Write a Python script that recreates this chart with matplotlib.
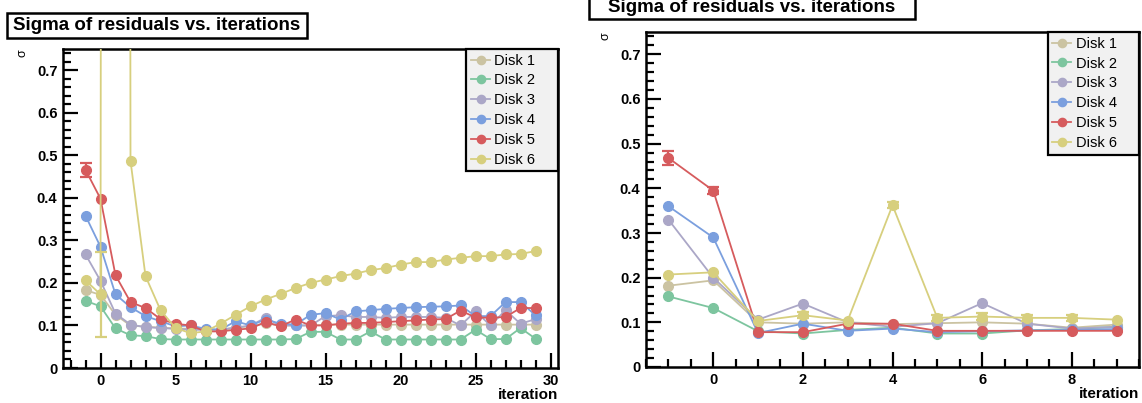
import matplotlib
matplotlib.use("Agg")
import matplotlib.pyplot as plt
from matplotlib.patches import Rectangle
from matplotlib.ticker import MultipleLocator

plt.rcParams['font.family'] = ['Liberation Sans', 'DejaVu Sans']

# series names and colours
disks = ["Disk 1", "Disk 2", "Disk 3", "Disk 4", "Disk 5", "Disk 6"]
colors = ["#cbc3a2", "#7dc59f", "#aba7c7", "#7b9fde", "#d65b5d", "#d7cf7e"]

# left panel: iterations -1..29
iter_left = list(range(-1, 30))
left_d1 = [0.183, 0.172, 0.125, 0.100, 0.097, 0.095, 0.093, 0.092, 0.090, 0.090, 0.095,
           0.098, 0.105, 0.100, 0.100, 0.100, 0.102, 0.102, 0.102, 0.102, 0.102, 0.102,
           0.102, 0.102, 0.102, 0.102, 0.102, 0.102, 0.102, 0.102, 0.102]
left_d2 = [0.158, 0.145, 0.093, 0.077, 0.075, 0.068, 0.067, 0.067, 0.067, 0.067, 0.067,
           0.067, 0.067, 0.067, 0.068, 0.085, 0.085, 0.067, 0.067, 0.086, 0.067, 0.067,
           0.067, 0.067, 0.067, 0.067, 0.090, 0.068, 0.068, 0.094, 0.069]
left_d3 = [0.267, 0.205, 0.128, 0.102, 0.096, 0.094, 0.092, 0.090, 0.090, 0.090, 0.095,
           0.100, 0.118, 0.100, 0.100, 0.100, 0.122, 0.124, 0.120, 0.120, 0.118, 0.120,
           0.120, 0.120, 0.118, 0.100, 0.133, 0.100, 0.136, 0.104, 0.115]
left_d4 = [0.358, 0.285, 0.173, 0.143, 0.122, 0.110, 0.098, 0.100, 0.092, 0.090, 0.110,
           0.100, 0.114, 0.104, 0.102, 0.125, 0.129, 0.114, 0.133, 0.136, 0.139, 0.141,
           0.143, 0.144, 0.145, 0.147, 0.122, 0.122, 0.155, 0.155, 0.124]
left_d5 = [0.466, 0.398, 0.218, 0.155, 0.141, 0.115, 0.104, 0.100, 0.086, 0.086, 0.090,
           0.093, 0.108, 0.098, 0.114, 0.100, 0.100, 0.104, 0.106, 0.106, 0.108, 0.110,
           0.112, 0.114, 0.115, 0.135, 0.119, 0.118, 0.120, 0.141, 0.141]
left_d6 = [0.206, 0.173, 30.0, 0.487, 0.216, 0.136, 0.094, 0.082, 0.086, 0.104, 0.125,
           0.145, 0.161, 0.174, 0.188, 0.200, 0.208, 0.216, 0.222, 0.230, 0.235, 0.243,
           0.249, 0.249, 0.255, 0.259, 0.263, 0.263, 0.267, 0.268, 0.275]
left_series = [left_d1, left_d2, left_d3, left_d4, left_d5, left_d6]
# visible error bars (iteration -> sigma error), per disk
left_errors = [{}, {}, {}, {}, {-1: 0.016}, {0: 0.099}]

# right panel: iterations -1..9
iter_right = list(range(-1, 10))
right_d1 = [0.182, 0.194, 0.100, 0.097, 0.100, 0.096, 0.098, 0.100, 0.097, 0.088, 0.095]
right_d2 = [0.158, 0.132, 0.080, 0.075, 0.083, 0.088, 0.075, 0.075, 0.082, 0.085, 0.090]
right_d3 = [0.330, 0.200, 0.106, 0.142, 0.100, 0.090, 0.098, 0.143, 0.097, 0.086, 0.090]
right_d4 = [0.360, 0.290, 0.076, 0.097, 0.081, 0.086, 0.078, 0.080, 0.082, 0.083, 0.085]
right_d5 = [0.468, 0.395, 0.078, 0.078, 0.097, 0.097, 0.081, 0.081, 0.081, 0.081, 0.081]
right_d6 = [0.207, 0.212, 0.103, 0.116, 0.104, 0.362, 0.110, 0.113, 0.110, 0.110, 0.106]
right_series = [right_d1, right_d2, right_d3, right_d4, right_d5, right_d6]
right_errors = [{}, {}, {}, {}, {-1: 0.015, 0: 0.008},
                {2: 0.007, 4: 0.007, 5: 0.007, 6: 0.007, 7: 0.006, 8: 0.006}]

title = "Sigma of residuals vs. iterations"

W, H = 1142, 403
fig = plt.figure(figsize=(W / 100, H / 100), dpi=100)


def px_axes(x0, y0, x1, y1):
    return fig.add_axes([x0 / W, 1 - y1 / H, (x1 - x0) / W, (y1 - y0) / H])


def draw_panel(ax, xs, series, errors, xlim, xmajor, xminor):
    for vals, errs, col, name in zip(series, errors, colors, disks):
        ax.plot(xs, vals, '-o', color=col, lw=1.3, ms=7, label=name, zorder=3, clip_on=True)
        for it, e in errs.items():
            i = xs.index(it)
            ax.errorbar([it], [vals[i]], yerr=[e], fmt='none', ecolor=col,
                        elinewidth=1.6, capsize=4, capthick=1.6, zorder=3)
    ax.set_xlim(*xlim)
    ax.set_ylim(0, 0.75)
    ax.xaxis.set_major_locator(MultipleLocator(xmajor))
    ax.xaxis.set_minor_locator(MultipleLocator(xminor))
    ax.yaxis.set_major_locator(MultipleLocator(0.1))
    ax.yaxis.set_minor_locator(MultipleLocator(0.02))
    ax.yaxis.set_major_formatter(plt.FuncFormatter(lambda v, p: "0" if abs(v) < 1e-9 else "%.1f" % v))
    ax.tick_params(which='both', direction='in', top=False, right=False, width=1.6)
    ax.tick_params(which='major', length=11, labelsize=10.5, pad=4)
    ax.tick_params(which='minor', length=5.5)
    for lab in ax.get_xticklabels() + ax.get_yticklabels():
        lab.set_fontweight('bold')
    for sp in ax.spines.values():
        sp.set_linewidth(1.8)
    leg = ax.legend(loc='upper right', bbox_to_anchor=(0.815, 0.0, 0.185, 1.0), mode='expand',
                    borderaxespad=0, fancybox=False, framealpha=1, facecolor='#f1f1f1',
                    edgecolor='black', fontsize=10.5, handlelength=1.3, handletextpad=0.3,
                    labelspacing=0.4, borderpad=0.32, markerscale=0.85)
    leg.get_frame().set_linewidth(1.6)
    ax.set_xlabel("iteration", fontweight='bold', fontsize=11, loc='right', labelpad=0)
    ax.set_ylabel("σ", fontsize=9, loc='top', labelpad=6)


ax1 = px_axes(63, 49, 558, 368)
draw_panel(ax1, iter_left, left_series, left_errors, (-2.5, 30.5), 5, 1)
ax2 = px_axes(646, 32, 1139, 367)
draw_panel(ax2, iter_right, right_series, right_errors, (-1.5, 9.5), 2, 0.5)


def title_box(x0, y0, x1, y1, ty):
    fig.patches.append(Rectangle((x0 / W, 1 - y1 / H), (x1 - x0) / W, (y1 - y0) / H,
                                 transform=fig.transFigure, facecolor='white',
                                 edgecolor='black', lw=1.8, zorder=5))
    fig.text((x0 + x1) / 2 / W, 1 - ty / H, title, ha='center', va='center',
             fontsize=13.5, fontweight='bold', zorder=6)


title_box(7, 13, 307, 38, 26)
title_box(589, -8, 915, 19, 8)

fig.savefig("out.png", dpi=100)
